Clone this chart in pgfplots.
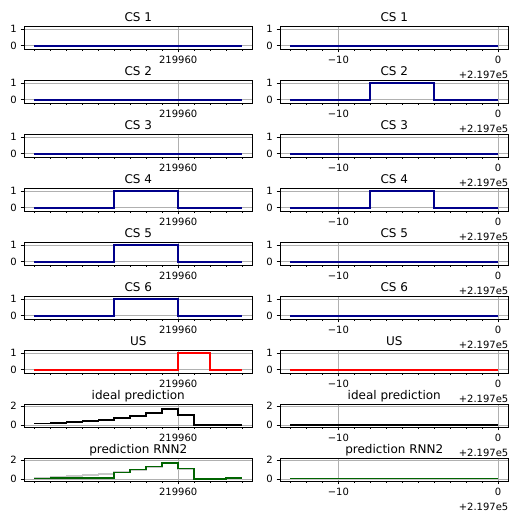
\documentclass[border=0pt]{standalone}
\usepackage{fontspec}
\setmainfont{DejaVu Sans}
\usepackage{pgfplots}
\usepackage{pgfplotstable}
\pgfplotsset{compat=1.18}
\definecolor{csblue}{HTML}{00008B}
\definecolor{usred}{HTML}{FF0000}
\definecolor{rnngreen}{HTML}{006400}
\definecolor{idealgrey}{HTML}{C8C8C8}
\definecolor{gridgrey}{HTML}{B0B0B0}
\newcommand{\ticksize}{\fontsize{10}{12}\selectfont}

% time steps relative to 219960 (left column) and to 2.197e5 (right column)
\pgfplotstableread{
t cs1 cs2 cs3 cs4 cs5 cs6 us ideal rnn2
-9 0 0 0 0 0 0 0 0.17 0.08
-8 0 0 0 0 0 0 0 0.21 0.09
-7 0 0 0 0 0 0 0 0.30 0.10
-6 0 0 0 0 0 0 0 0.42 0.10
-5 0 0 0 0 0 0 0 0.56 0.11
-4 0 0 0 1 1 1 0 0.74 0.70
-3 0 0 0 1 1 1 0 0.95 1.02
-2 0 0 0 1 1 1 0 1.23 1.30
-1 0 0 0 1 1 1 0 1.67 1.68
0 0 0 0 0 0 0 1 1.04 1.09
1 0 0 0 0 0 0 1 0 0.03
2 0 0 0 0 0 0 0 0 0.03
3 0 0 0 0 0 0 0 0 0.14
4 0 0 0 0 0 0 0 0 0.14
}\lefttab
\pgfplotstableread{
t cs1 cs2 cs3 cs4 cs5 cs6 us ideal rnn2
-13 0 0 0 0 0 0 0 0 0.05
-12 0 0 0 0 0 0 0 0 0.05
-11 0 0 0 0 0 0 0 0 0.05
-10 0 0 0 0 0 0 0 0 0.05
-9 0 0 0 0 0 0 0 0 0.05
-8 0 1 0 1 0 0 0 0 0.05
-7 0 1 0 1 0 0 0 0 0.05
-6 0 1 0 1 0 0 0 0 0.05
-5 0 1 0 1 0 0 0 0 0.05
-4 0 0 0 0 0 0 0 0 0.05
-3 0 0 0 0 0 0 0 0 0.05
-2 0 0 0 0 0 0 0 0 0.05
-1 0 0 0 0 0 0 0 0 0.05
0 0 0 0 0 0 0 0 0 0.05
}\righttab

\pgfplotsset{
  dat/.style={const plot, line width=1.6pt, mark=none},
  panel/.style={
    set layers=standard,
    scale only axis, width=228.5pt, height=23pt,
    axis line style={line width=0.8pt, black},
    tick align=outside, tick pos=left,
    major tick length=3.5pt, minor tick length=2pt,
    tick style={black, line width=0.8pt},
    minor tick style={line width=0.6pt},
    grid=major, major grid style={color=gridgrey, line width=0.8pt},
    ticklabel style={font=\ticksize, inner sep=0pt},
    xticklabel style={yshift=-3.5pt},
    yticklabel style={xshift=-3.5pt},
    /pgf/number format/assume math mode=true,
    title style={font=\fontsize{12}{14}\selectfont, at={(0.5,1)}, anchor=base, yshift=-1.5pt, inner sep=0pt},
    table/x=t,
  },
  L/.style={panel, xmin=-9.65, xmax=4.65, xtick={0}, xticklabels={219960},
    minor xtick={-9,-8,...,4}},
  R/.style={panel, xmin=-13.65, xmax=0.65, xtick={-10,0}, xticklabels={−10,0},
    minor xtick={-13,-12,...,0},
    extra description/.code={\node[anchor=north east, inner sep=0pt, font=\ticksize, yshift=-22pt] at (1,0) {+2.197e5};}},
  yA/.style={ymin=-0.2, ymax=1.2, ytick={0,1}},
  yB/.style={ymin=-0.2, ymax=2.2, ytick={0,2}},
}

\begin{document}
\begin{tikzpicture}
\path (0,0) rectangle (509pt,512pt);
% ---------- left column ----------
\begin{axis}[L, yA, at={(24pt,463pt)}, anchor=south west, title={CS 1}]
\addplot[dat, color=csblue] table[y=cs1] {\lefttab};
\end{axis}
\begin{axis}[L, yA, at={(24pt,409pt)}, anchor=south west, title={CS 2}]
\addplot[dat, color=csblue] table[y=cs2] {\lefttab};
\end{axis}
\begin{axis}[L, yA, at={(24pt,355pt)}, anchor=south west, title={CS 3}]
\addplot[dat, color=csblue] table[y=cs3] {\lefttab};
\end{axis}
\begin{axis}[L, yA, at={(24pt,301pt)}, anchor=south west, title={CS 4}]
\addplot[dat, color=csblue] table[y=cs4] {\lefttab};
\end{axis}
\begin{axis}[L, yA, at={(24pt,247pt)}, anchor=south west, title={CS 5}]
\addplot[dat, color=csblue] table[y=cs5] {\lefttab};
\end{axis}
\begin{axis}[L, yA, at={(24pt,193pt)}, anchor=south west, title={CS 6}]
\addplot[dat, color=csblue] table[y=cs6] {\lefttab};
\end{axis}
\begin{axis}[L, yA, at={(24pt,139pt)}, anchor=south west, title={US}]
\addplot[dat, color=usred] table[y=us] {\lefttab};
\end{axis}
\begin{axis}[L, yB, at={(24pt,85pt)}, anchor=south west, title={ideal prediction}]
\addplot[dat, color=black] table[y=ideal] {\lefttab};
\end{axis}
\begin{axis}[L, yB, at={(24pt,31pt)}, anchor=south west, title={prediction RNN2}]
\addplot[dat, color=idealgrey] table[y=ideal] {\lefttab};
\addplot[dat, color=rnngreen] table[y=rnn2] {\lefttab};
\end{axis}
% ---------- right column ----------
\begin{axis}[R, yA, at={(280pt,463pt)}, anchor=south west, title={CS 1}]
\addplot[dat, color=csblue] table[y=cs1] {\righttab};
\end{axis}
\begin{axis}[R, yA, at={(280pt,409pt)}, anchor=south west, title={CS 2}]
\addplot[dat, color=csblue] table[y=cs2] {\righttab};
\end{axis}
\begin{axis}[R, yA, at={(280pt,355pt)}, anchor=south west, title={CS 3}]
\addplot[dat, color=csblue] table[y=cs3] {\righttab};
\end{axis}
\begin{axis}[R, yA, at={(280pt,301pt)}, anchor=south west, title={CS 4}]
\addplot[dat, color=csblue] table[y=cs4] {\righttab};
\end{axis}
\begin{axis}[R, yA, at={(280pt,247pt)}, anchor=south west, title={CS 5}]
\addplot[dat, color=csblue] table[y=cs5] {\righttab};
\end{axis}
\begin{axis}[R, yA, at={(280pt,193pt)}, anchor=south west, title={CS 6}]
\addplot[dat, color=csblue] table[y=cs6] {\righttab};
\end{axis}
\begin{axis}[R, yA, at={(280pt,139pt)}, anchor=south west, title={US}]
\addplot[dat, color=usred] table[y=us] {\righttab};
\end{axis}
\begin{axis}[R, yB, at={(280pt,85pt)}, anchor=south west, title={ideal prediction}]
\addplot[dat, color=black] table[y=ideal] {\righttab};
\end{axis}
\begin{axis}[R, yB, at={(280pt,31pt)}, anchor=south west, title={prediction RNN2}]
\addplot[dat, color=idealgrey] table[y=ideal] {\righttab};
\addplot[dat, color=rnngreen] table[y=rnn2] {\righttab};
\end{axis}
\end{tikzpicture}
\end{document}
